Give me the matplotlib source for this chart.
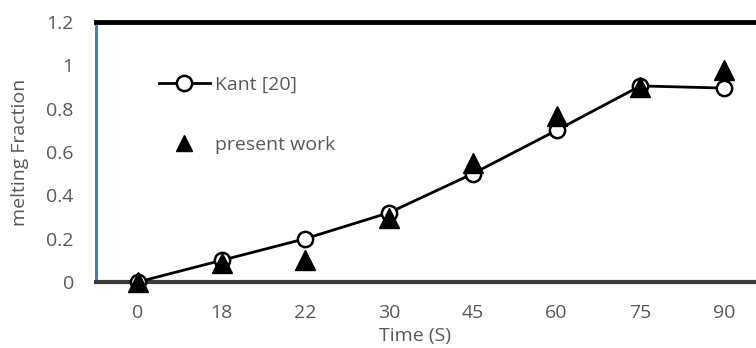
import matplotlib.pyplot as plt
import numpy as np

times = ["0", "18", "22", "30", "45", "60", "75", "90"]
kant = [0.0, 0.10, 0.20, 0.32, 0.50, 0.70, 0.905, 0.895]
present = [0.0, 0.09, 0.10, 0.295, 0.55, 0.765, 0.90, 0.98]

plt.rcParams['font.family'] = ['Open Sans', 'DejaVu Sans']
grey = '#595959'

fig = plt.figure(figsize=(7.56, 3.48), dpi=100)
ax = fig.add_axes([96 / 756, 1 - 282 / 348, 670 / 756, 260 / 348])

x = np.arange(len(times))
ax.plot(x, kant, color='black', lw=2, marker='o', ms=11, mfc='white',
        mec='black', mew=1.8, label='Kant [20]', clip_on=False, zorder=3)
ax.plot(x, present, ls='none', marker='^', ms=14, color='black',
        label='present work', clip_on=False, zorder=4)

ax.set_xlim(-0.5, 7.5)
ax.set_ylim(0, 1.2)
ax.set_xticks(x)
ax.set_xticklabels(times)
ax.set_yticks([0, 0.2, 0.4, 0.6, 0.8, 1, 1.2])
ax.set_yticklabels(["0", "0.2", "0.4", "0.6", "0.8", "1", "1.2"])
ax.tick_params(length=0, labelsize=14, colors=grey)
ax.tick_params(axis='y', pad=16)
ax.tick_params(axis='x', pad=16)

ax.spines['top'].set_color('black')
ax.spines['top'].set_linewidth(3.5)
ax.spines['left'].set_color('#4a7ebb')
ax.spines['left'].set_linewidth(2.2)
ax.spines['bottom'].set_color('#3a3a3a')
ax.spines['bottom'].set_linewidth(3)
ax.spines['right'].set_visible(False)
ax.axhline(0, color='#c8c8c8', lw=0.8, zorder=2.5, clip_on=False)

ax.set_xlabel("Time (S)", fontsize=14, color=grey)
ax.xaxis.set_label_coords((415 - 96) / 670, -0.172)
ax.set_ylabel("melting Fraction", fontsize=14, color=grey)
ax.yaxis.set_label_coords(-0.1, 0.5)

leg = ax.legend(loc='upper left', bbox_to_anchor=(0.068, 0.86), frameon=False,
                fontsize=14, labelspacing=2.15, handlelength=2.6, handletextpad=0.3)
leg.legend_handles[1].set_markersize(11)
for t in leg.get_texts():
    t.set_color(grey)

fig.savefig("out.png", dpi=100)
